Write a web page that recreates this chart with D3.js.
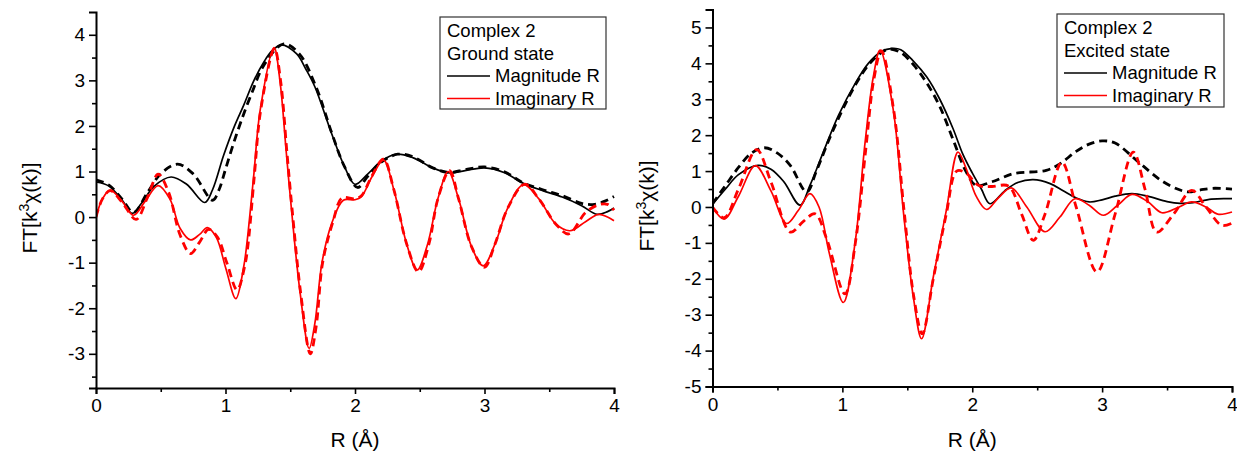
<!DOCTYPE html>
<html>
<head>
<meta charset="utf-8">
<script src="https://cdn.jsdelivr.net/npm/d3@7"></script>
<style>
  body { margin: 0; background: #fff; }
  text { font-family: "Liberation Sans", Arial, sans-serif; fill: #000; }
</style>
</head>
<body>
<svg id="svg" width="1237" height="454"></svg>
<script>
// ---- data: [R (Å), FT value] ----
const groundMagSolid = [[0,0.77],[0.1,0.68],[0.2,0.38],[0.28,0.08],[0.35,0.3],[0.45,0.68],[0.58,0.88],[0.7,0.72],[0.84,0.32],
  [0.9,0.6],[0.985,1.35],[1.07,2.0],[1.14,2.45],[1.22,3.0],[1.3,3.42],[1.36,3.65],[1.43,3.78],[1.55,3.58],[1.62,3.25],
  [1.69,2.86],[1.82,1.83],[1.92,1.1],[2.0,0.72],
  [2.1,0.95],[2.2,1.22],[2.32,1.38],[2.45,1.3],[2.6,1.08],[2.73,0.97],[2.85,1.02],[3.0,1.08],[3.15,0.98],[3.3,0.74],
  [3.45,0.58],[3.6,0.44],[3.75,0.25],[3.87,0.06],[3.95,0.12],[4.0,0.2]];
const groundMagDash = [[0,0.82],[0.1,0.7],[0.2,0.4],[0.29,0.1],[0.4,0.55],[0.5,0.95],[0.63,1.16],[0.75,0.95],[0.9,0.37],
  [0.95,0.6],[1.0,1.05],[1.06,1.6],[1.12,2.1],[1.2,2.7],[1.3,3.35],[1.45,3.8],[1.57,3.58],[1.7,2.85],[1.82,1.85],[1.92,1.1],
  [2.02,0.65],[2.1,0.9],
  [2.2,1.2],[2.33,1.38],[2.45,1.32],[2.6,1.08],[2.73,0.98],[2.85,1.04],[3.0,1.1],[3.15,1.0],[3.3,0.75],[3.45,0.6],
  [3.6,0.47],[3.75,0.3],[3.85,0.28],[3.93,0.35],[4.0,0.45]];
const groundImSolid = [[0,0],[0.05,0.4],[0.11,0.59],[0.2,0.35],[0.29,0.04],[0.38,0.35],[0.48,0.69],[0.57,0.4],[0.65,-0.25],
  [0.73,-0.5],[0.8,-0.38],[0.86,-0.23],[0.93,-0.45],[1.0,-1.1],[1.08,-1.79],[1.14,-1.1],[1.165,-0.58],[1.217,0.88],[1.268,2.35],
  [1.375,3.72],[1.42,3.0],[1.47,1.4],[1.51,0.15],[1.577,-1.68],[1.646,-2.88],[1.69,-2.33],[1.745,-1.0],[1.82,-0.14],
  [1.91,0.37],[2.0,0.38],[2.05,0.45],[2.13,0.88],[2.22,1.25],[2.3,0.6],[2.4,-0.6],[2.48,-1.16],[2.56,-0.6],[2.64,0.4],
  [2.72,1.0],[2.8,0.4],[2.9,-0.65],[2.99,-1.07],[3.08,-0.6],[3.18,0.2],[3.3,0.71],[3.42,0.4],[3.55,-0.15],[3.66,-0.3],
  [3.78,-0.1],[3.88,0.06],[3.95,0.0],[4.0,-0.08]];
const groundImDash = [[0,0],[0.05,0.4],[0.11,0.58],[0.2,0.33],[0.31,-0.05],[0.4,0.45],[0.48,0.94],[0.56,0.55],[0.65,-0.4],
  [0.73,-0.8],[0.8,-0.55],[0.87,-0.27],[0.94,-0.45],[1.01,-1.0],[1.09,-1.6],[1.15,-1.05],[1.175,-0.58],[1.222,0.88],
  [1.272,2.35],[1.378,3.7],[1.425,3.0],[1.475,1.4],[1.515,0.15],[1.582,-1.7],[1.655,-3.0],[1.7,-2.4],[1.75,-1.0],
  [1.83,-0.1],[1.9,0.42],[2.0,0.4],[2.05,0.47],[2.13,0.9],[2.22,1.27],[2.3,0.6],[2.4,-0.6],[2.49,-1.2],[2.57,-0.6],
  [2.64,0.4],[2.73,1.02],[2.8,0.4],[2.9,-0.65],[3.0,-1.1],[3.08,-0.6],[3.18,0.2],[3.31,0.72],[3.42,0.4],[3.55,-0.15],
  [3.65,-0.37],[3.78,0.1],[3.88,0.27],[3.95,0.28],[4.0,0.15]];

const excitedMagSolid = [[0,0.07],[0.1,0.5],[0.2,0.9],[0.35,1.16],[0.45,1.05],[0.55,0.7],[0.674,0.05],[0.75,0.6],[0.85,1.5],
  [0.97,2.55],[1.1,3.45],[1.2,4.0],[1.3,4.33],[1.385,4.42],[1.45,4.38],[1.55,4.05],[1.65,3.62],[1.75,3.0],[1.85,2.2],
  [1.93,1.45],[2.0,0.95],[2.07,0.5],
  [2.136,0.09],[2.25,0.45],[2.35,0.68],[2.47,0.76],[2.6,0.65],[2.7,0.45],[2.8,0.25],[2.9,0.14],[3.0,0.2],[3.1,0.3],
  [3.23,0.37],[3.35,0.3],[3.5,0.15],[3.6,0.1],[3.7,0.12],[3.84,0.22],[4.0,0.23]];
const excitedMagDash = [[0,0.09],[0.1,0.6],[0.2,1.1],[0.3,1.5],[0.4,1.65],[0.5,1.5],[0.6,1.15],[0.725,0.42],[0.8,1.0],
  [0.9,1.9],[1.0,2.7],[1.1,3.4],[1.2,3.95],[1.3,4.3],[1.36,4.4],[1.45,4.3],[1.55,3.95],[1.65,3.45],[1.75,2.8],[1.85,1.9],
  [1.95,1.0],[2.03,0.6],[2.15,0.7],[2.32,0.93],[2.57,1.02],[2.675,1.2],[2.8,1.55],[2.9,1.75],[3.0,1.84],[3.1,1.78],
  [3.28,1.25],[3.45,0.75],[3.58,0.5],[3.66,0.42],[3.75,0.47],[3.85,0.52],[4.0,0.5]];
const excitedImSolid = [[0,0],[0.09,-0.34],[0.2,0.3],[0.33,1.15],[0.45,0.45],[0.57,-0.46],[0.66,-0.1],[0.75,0.37],[0.82,0.0],
  [0.9,-1.3],[1.007,-2.66],[1.097,-1.02],[1.174,1.77],[1.238,3.62],[1.29,4.37],[1.392,2.7],[1.469,-0.1],[1.546,-2.5],
  [1.61,-3.67],[1.7,-1.95],[1.8,-0.1],[1.89,1.53],[1.95,1.1],[2.03,0.3],[2.11,-0.07],[2.2,0.25],[2.3,0.53],[2.42,0.0],
  [2.56,-0.69],[2.675,-0.28],[2.79,0.23],[2.9,0.05],[3.01,-0.23],[3.12,0.05],[3.23,0.35],[3.35,0.15],[3.46,-0.16],
  [3.58,-0.02],[3.69,0.14],[3.8,0.0],[3.89,-0.2],[4.0,-0.14]];
const excitedImDash = [[0,0],[0.09,-0.3],[0.2,0.5],[0.34,1.6],[0.45,0.7],[0.6,-0.7],[0.7,-0.4],[0.79,-0.19],[0.88,-0.9],
  [1.02,-2.42],[1.1,-1.0],[1.18,1.6],[1.24,3.5],[1.3,4.35],[1.395,2.7],[1.475,-0.1],[1.55,-2.5],[1.615,-3.53],[1.7,-2.0],
  [1.8,-0.2],[1.88,1.0],[1.95,0.95],[2.05,0.6],[2.15,0.57],[2.28,0.58],[2.38,-0.2],[2.47,-0.93],[2.56,-0.2],[2.69,1.25],
  [2.8,0.0],[2.96,-1.81],[3.1,-0.2],[3.24,1.53],[3.33,0.5],[3.42,-0.7],[3.55,-0.2],[3.69,0.46],[3.8,0.0],[3.92,-0.51],
  [4.0,-0.45]];

const xTicks = [0, 1, 2, 3, 4];
const groundYTicks = [-3, -2, -1, 0, 1, 2, 3, 4];
const excitedYTicks = [-5, -4, -3, -2, -1, 0, 1, 2, 3, 4, 5];
const legendLabels = ["Magnitude R", "Imaginary R"];

const panels = [
  { id: "g", title: ["Complex 2", "Ground state"], yDomain: [-3.75, 4.5], yTicks: groundYTicks,
    x0: 96, x1: 614, y0: 388, y1: 12, titleX: 37, legend: [440, 17, 166, 92],
    series: [groundMagSolid, groundMagDash, groundImSolid, groundImDash] },
  { id: "e", title: ["Complex 2", "Excited state"], yDomain: [-5, 5.5], yTicks: excitedYTicks,
    x0: 712.5, x1: 1232, y0: 386.5, y1: 9.5, titleX: 654, legend: [1057, 14, 167, 93],
    series: [excitedMagSolid, excitedMagDash, excitedImSolid, excitedImDash] }
];

const styles = [
  { color: "#000", width: 1.7, dash: null },
  { color: "#000", width: 2.8, dash: "8,5" },
  { color: "#ff0000", width: 1.7, dash: null },
  { color: "#ff0000", width: 2.8, dash: "8,5" }
];

const svg = d3.select("#svg");

panels.forEach(p => {
  const x = d3.scaleLinear().domain([0, 4]).range([p.x0, p.x1]);
  const y = d3.scaleLinear().domain(p.yDomain).range([p.y0, p.y1]);
  const g = svg.append("g");

  g.append("clipPath").attr("id", "clip-" + p.id)
    .append("rect").attr("x", p.x0).attr("y", p.y1)
    .attr("width", p.x1 - p.x0 + 2).attr("height", p.y0 - p.y1);

  const line = d3.line().x(d => x(d[0])).y(d => y(d[1])).curve(d3.curveCatmullRom.alpha(0.5));

  g.append("g").attr("clip-path", `url(#clip-${p.id})`)
    .selectAll("path")
    .data(p.series)
    .join("path")
    .attr("d", d => line(d))
    .attr("fill", "none")
    .attr("stroke", (d, i) => styles[i].color)
    .attr("stroke-width", (d, i) => styles[i].width)
    .attr("stroke-dasharray", (d, i) => styles[i].dash)
    .attr("stroke-linejoin", "round");

  // x axis, major and minor ticks
  g.append("g").attr("transform", `translate(0,${p.y0})`)
    .call(d3.axisBottom(x).tickValues(xTicks).tickFormat(d => String(d)).tickSize(6).tickPadding(5));
  g.append("g").attr("transform", `translate(0,${p.y0})`)
    .call(d3.axisBottom(x).tickValues([0.5, 1.5, 2.5, 3.5]).tickSize(4).tickFormat(""))
    .call(s => s.select(".domain").remove());

  // y axis, major and minor ticks
  const minorY = p.yTicks.map(v => v + 0.5).filter(v => v < p.yDomain[1]);
  if (p.yTicks[0] - 0.5 >= p.yDomain[0]) minorY.push(p.yTicks[0] - 0.5);
  g.append("g").attr("transform", `translate(${p.x0},0)`)
    .call(d3.axisLeft(y).tickValues(p.yTicks).tickFormat(d => String(d)).tickSize(7).tickPadding(4));
  g.append("g").attr("transform", `translate(${p.x0},0)`)
    .call(d3.axisLeft(y).tickValues(minorY).tickSize(4).tickFormat(""))
    .call(s => s.select(".domain").remove());

  g.selectAll(".domain").attr("stroke", "#000").attr("stroke-width", 2);
  g.selectAll(".tick line").attr("stroke", "#000").attr("stroke-width", 1.6);
  g.selectAll(".tick text").style("font-size", "19px").style("font-family", "Liberation Sans, Arial, sans-serif");

  // axis titles
  g.append("text")
    .attr("x", (p.x0 + p.x1) / 2).attr("y", 447)
    .attr("text-anchor", "middle").style("font-size", "21px")
    .text("R (Å)");

  const yt = g.append("text")
    .attr("transform", `translate(${p.titleX},${(p.y0 + p.y1) / 2 + 8}) rotate(-90)`)
    .attr("text-anchor", "middle").style("font-size", "21px");
  yt.append("tspan").text("FT[k");
  yt.append("tspan").attr("dy", -8).style("font-size", "14px").text("3");
  yt.append("tspan").attr("dy", 8).text("χ(k)]");

  // legend
  const [lx, ly, lw, lh] = p.legend;
  const lg = g.append("g");
  lg.append("rect").attr("x", lx).attr("y", ly).attr("width", lw).attr("height", lh)
    .attr("fill", "#fff").attr("stroke", "#333").attr("stroke-width", 1.2);
  p.title.forEach((t, i) => {
    lg.append("text").attr("x", lx + 7).attr("y", ly + 20 + i * 22.5)
      .style("font-size", "18.5px").text(t);
  });
  legendLabels.forEach((t, i) => {
    const yy = ly + 20 + (i + 2) * 22.5;
    lg.append("line").attr("x1", lx + 7).attr("x2", lx + 50)
      .attr("y1", yy - 6).attr("y2", yy - 6)
      .attr("stroke", styles[i * 2].color).attr("stroke-width", 1.7);
    lg.append("text").attr("x", lx + 55).attr("y", yy)
      .style("font-size", "18.5px").text(t);
  });
});
</script>
</body>
</html>
